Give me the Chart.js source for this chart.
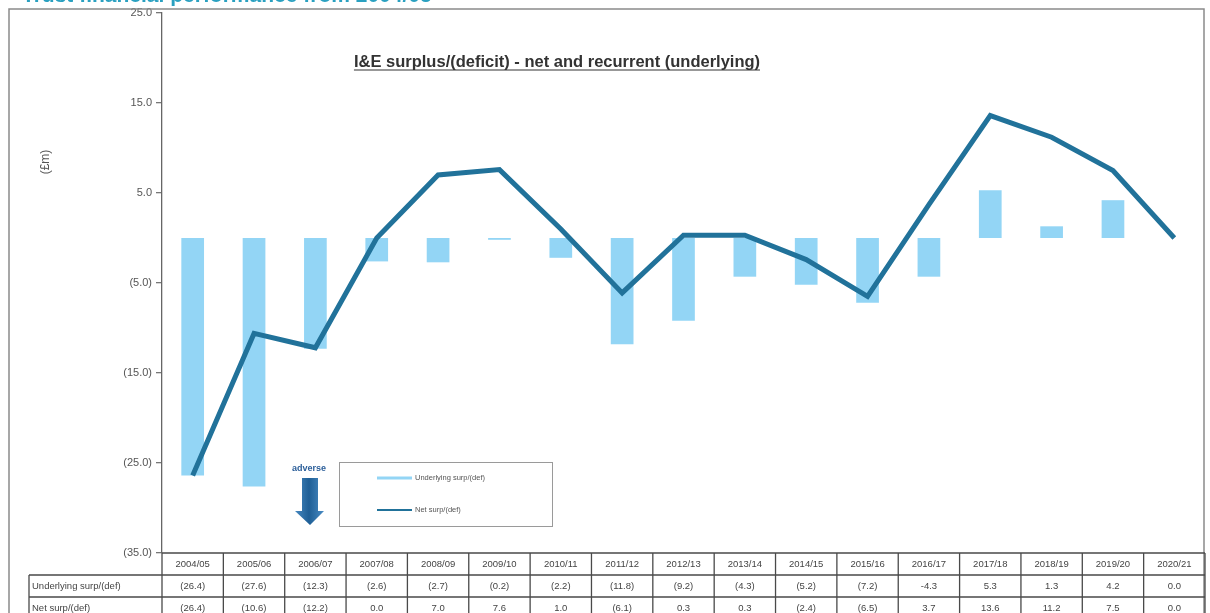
<!DOCTYPE html>
<html>
<head>
<meta charset="utf-8">
<script src="https://cdn.jsdelivr.net/npm/chart.js@4/dist/chart.umd.min.js"></script>
<style>
  html, body { margin: 0; padding: 0; background: #fff; }
  #wrap { width: 1210px; height: 613px; position: relative; }
</style>
</head>
<body>
<div id="wrap"><canvas id="ieChart" width="1210" height="613"></canvas></div>
<script>
// financial years
const years = ["2004/05", "2005/06", "2006/07", "2007/08", "2008/09", "2009/10", "2010/11", "2011/12", "2012/13",
    "2013/14", "2014/15", "2015/16", "2016/17", "2017/18", "2018/19", "2019/20", "2020/21"];

// underlying (recurrent) surplus/(deficit), £m
const underlying = [-26.4, -27.6, -12.3, -2.6, -2.7, -0.2, -2.2, -11.8, -9.2, -4.3, -5.2, -7.2, -4.3, 5.3, 1.3, 4.2, 0.0];

// net surplus/(deficit), £m
const net = [-26.4, -10.6, -12.2, 0.0, 7.0, 7.6, 1.0, -6.1, 0.3, 0.3, -2.4, -6.5, 3.7, 13.6, 11.2, 7.5, 0.0];

// y axis ticks
const yMin = -35;
const yMax = 25;
const yStep = 10;

// the table shows this year's underlying figure with a minus sign instead of brackets
const minusYears = ["2016/17"];

const barColor = "rgba(135, 208, 244, 0.9)";
const lineColor = "#21729a";

function fmt(v, year) {
    if (v < 0) {
        if (year && minusYears.includes(year)) return "-" + Math.abs(v).toFixed(1);
        return "(" + Math.abs(v).toFixed(1) + ")";
    }
    return v.toFixed(1);
}

const decorations = {
    id: "decorations",
    afterDraw(chart) {
        const ctx = chart.ctx;
        const xs = chart.scales.x;
        const area = chart.chartArea;
        const colW = (area.right - area.left) / years.length;

        ctx.save();

        // page heading, cut off by the top edge
        ctx.fillStyle = "#2aa0c0";
        ctx.font = "bold 21px 'Liberation Sans', Arial, sans-serif";
        ctx.textBaseline = "alphabetic";
        ctx.textAlign = "left";
        ctx.fillText("Trust financial performance from 2004/05", 22, 2);

        // outer frame
        ctx.strokeStyle = "#8a8a8a";
        ctx.lineWidth = 1.5;
        ctx.beginPath();
        ctx.moveTo(9, 613);
        ctx.lineTo(9, 9);
        ctx.lineTo(1204, 9);
        ctx.lineTo(1204, 613);
        ctx.stroke();

        // chart title, underlined
        const title = "I&E surplus/(deficit) - net and recurrent (underlying)";
        ctx.fillStyle = "#333";
        ctx.font = "bold 16.5px 'Liberation Sans', Arial, sans-serif";
        ctx.textAlign = "left";
        const tw = ctx.measureText(title).width;
        const tx = 557 - tw / 2;
        ctx.fillText(title, tx, 67);
        ctx.strokeStyle = "#333";
        ctx.lineWidth = 1.2;
        ctx.beginPath();
        ctx.moveTo(tx, 70);
        ctx.lineTo(tx + tw, 70);
        ctx.stroke();

        // axis unit
        ctx.save();
        ctx.translate(46, 162);
        ctx.rotate(-Math.PI / 2);
        ctx.textAlign = "center";
        ctx.textBaseline = "middle";
        ctx.font = "12px 'Liberation Sans', Arial, sans-serif";
        ctx.fillStyle = "#555";
        ctx.fillText("(£m)", 0, 0);
        ctx.restore();

        // "adverse" arrow
        ctx.fillStyle = "#2c5f9a";
        ctx.font = "bold 9px 'Liberation Sans', Arial, sans-serif";
        ctx.textAlign = "center";
        ctx.textBaseline = "middle";
        ctx.fillText("adverse", 309, 469);
        const grad = ctx.createLinearGradient(294, 0, 324, 0);
        grad.addColorStop(0, "#4a8cc4");
        grad.addColorStop(0.5, "#1f5f96");
        grad.addColorStop(1, "#4a8cc4");
        ctx.fillStyle = grad;
        ctx.beginPath();
        ctx.moveTo(302, 478);
        ctx.lineTo(318, 478);
        ctx.lineTo(318, 511);
        ctx.lineTo(324, 511);
        ctx.lineTo(310, 525);
        ctx.lineTo(295, 511);
        ctx.lineTo(302, 511);
        ctx.closePath();
        ctx.fill();

        // legend box
        ctx.fillStyle = "#fff";
        ctx.fillRect(339, 462, 213, 64);
        ctx.strokeStyle = "#9a9a9a";
        ctx.lineWidth = 1;
        ctx.strokeRect(339.5, 462.5, 213, 64);
        ctx.font = "7.5px 'Liberation Sans', Arial, sans-serif";
        ctx.textAlign = "left";
        ctx.textBaseline = "middle";
        const legendRows = [
            { label: "Underlying surp/(def)", color: barColor, width: 3, y: 478 },
            { label: "Net surp/(def)", color: lineColor, width: 2, y: 510 },
        ];
        legendRows.forEach(r => {
            ctx.strokeStyle = r.color;
            ctx.lineWidth = r.width;
            ctx.beginPath();
            ctx.moveTo(377, r.y);
            ctx.lineTo(412, r.y);
            ctx.stroke();
            ctx.fillStyle = "#555";
            ctx.fillText(r.label, 415, r.y);
        });

        // data table under the plot
        const top = area.bottom;
        const rowH = 22;
        const labelLeft = 29;
        ctx.strokeStyle = "#4a4a4a";
        ctx.lineWidth = 1.3;
        ctx.beginPath();
        ctx.moveTo(area.left, top);
        ctx.lineTo(area.right, top);
        ctx.moveTo(labelLeft, top + rowH);
        ctx.lineTo(area.right, top + rowH);
        ctx.moveTo(labelLeft, top + rowH * 2);
        ctx.lineTo(area.right, top + rowH * 2);
        ctx.moveTo(labelLeft, top + rowH);
        ctx.lineTo(labelLeft, 613);
        for (let i = 0; i <= years.length; i++) {
            const x = area.left + i * colW;
            ctx.moveTo(x, top);
            ctx.lineTo(x, 613);
        }
        ctx.stroke();

        ctx.fillStyle = "#444";
        ctx.font = "9.5px 'Liberation Sans', Arial, sans-serif";
        ctx.textBaseline = "middle";
        ctx.textAlign = "left";
        ctx.fillText("Underlying surp/(def)", labelLeft + 3, top + rowH * 1.5);
        ctx.fillText("Net surp/(def)", labelLeft + 3, top + rowH * 2.5);
        ctx.textAlign = "center";
        years.forEach((yr, i) => {
            const x = xs.getPixelForValue(i);
            ctx.fillText(yr, x, top + rowH * 0.5);
            ctx.fillText(fmt(underlying[i], yr), x, top + rowH * 1.5);
            ctx.fillText(fmt(net[i]), x, top + rowH * 2.5);
        });

        ctx.restore();
    },
};

new Chart(document.getElementById("ieChart"), {
    type: "bar",
    data: {
        labels: years,
        datasets: [
            {
                type: "line",
                label: "Net surp/(def)",
                data: net,
                borderColor: lineColor,
                borderWidth: 5,
                pointRadius: 0,
                tension: 0,
                order: 1,
            },
            {
                label: "Underlying surp/(def)",
                data: underlying,
                backgroundColor: barColor,
                barPercentage: 0.37,
                categoryPercentage: 1,
                order: 2,
            },
        ],
    },
    options: {
        responsive: false,
        animation: false,
        layout: { padding: { left: 10, top: 13, right: 5, bottom: 60 } },
        plugins: {
            legend: { display: false },
            tooltip: { enabled: false },
        },
        scales: {
            x: { display: false },
            y: {
                min: yMin,
                max: yMax,
                afterFit(scale) {
                    scale.width = 152;
                },
                afterBuildTicks(scale) {
                    const t = [];
                    for (let v = yMin; v <= yMax; v += yStep) t.push({ value: v });
                    scale.ticks = t;
                },
                ticks: {
                    padding: 4,
                    color: "#555",
                    font: { family: "'Liberation Sans', Arial, sans-serif", size: 11 },
                    callback: v => fmt(v),
                },
                grid: {
                    color: c => (c.tick && c.tick.value === 0 ? "#9a9a9a" : "transparent"),
                    tickColor: "#777",
                    tickLength: 6,
                    lineWidth: 1.3,
                },
                border: { display: true, color: "#666", width: 1.3 },
            },
        },
    },
    plugins: [decorations],
});
</script>
</body>
</html>
